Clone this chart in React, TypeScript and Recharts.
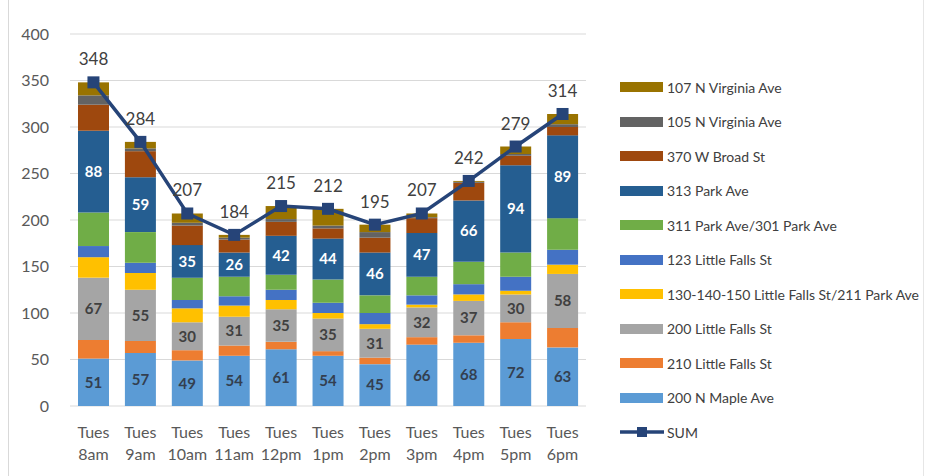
import React from 'react';
import { ComposedChart, Bar, Line, XAxis, YAxis, CartesianGrid, LabelList } from 'recharts';

const days = ['Tues', 'Tues', 'Tues', 'Tues', 'Tues', 'Tues', 'Tues', 'Tues', 'Tues', 'Tues', 'Tues'];
const times = ['8am', '9am', '10am', '11am', '12pm', '1pm', '2pm', '3pm', '4pm', '5pm', '6pm'];

const maple200N = [51, 57, 49, 54, 61, 54, 45, 66, 68, 72, 63];
const falls210 = [20, 13, 11, 11, 8, 5, 7, 8, 8, 18, 21];
const falls200 = [67, 55, 30, 31, 35, 35, 31, 32, 37, 30, 58];
const falls130 = [22, 18, 15, 12, 10, 6, 5, 3, 7, 4, 10];
const falls123 = [12, 11, 9, 10, 11, 11, 12, 10, 11, 15, 16];
const park311 = [36, 33, 24, 21, 16, 25, 19, 20, 24, 26, 34];
const park313 = [88, 59, 35, 26, 42, 44, 46, 47, 66, 94, 89];
const broad370 = [28, 28, 21, 14, 15, 11, 16, 16, 19, 10, 9];
const virginia105 = [10, 3, 3, 2, 3, 3, 6, 1, 1, 2, 3];
const virginia107 = [14, 7, 10, 3, 14, 18, 8, 4, 1, 8, 11];
const sumValues = [348, 284, 207, 184, 215, 212, 195, 207, 242, 279, 314];

const yTicks = [0, 50, 100, 150, 200, 250, 300, 350, 400];

const series = [
  { key: 'm200', name: '200 N Maple Ave', color: '#5B9BD5', values: maple200N, label: '#333F50' },
  { key: 'f210', name: '210 Little Falls St', color: '#ED7D31', values: falls210 },
  { key: 'f200', name: '200 Little Falls St', color: '#A5A5A5', values: falls200, label: '#404040' },
  { key: 'f130', name: '130-140-150 Little Falls St/211 Park Ave', color: '#FFC000', values: falls130 },
  { key: 'f123', name: '123 Little Falls St', color: '#4472C4', values: falls123 },
  { key: 'p311', name: '311 Park Ave/301 Park Ave', color: '#70AD47', values: park311 },
  { key: 'p313', name: '313 Park Ave', color: '#255E91', values: park313, label: '#FFFFFF' },
  { key: 'b370', name: '370 W Broad St', color: '#9E480E', values: broad370 },
  { key: 'v105', name: '105 N Virginia Ave', color: '#636363', values: virginia105 },
  { key: 'v107', name: '107 N Virginia Ave', color: '#997300', values: virginia107 },
];

const sumColor = '#264478';

const data = times.map((t, i) => {
  const row: Record<string, any> = { cat: days[i] + ' ' + t, day: days[i], time: t, sum: sumValues[i] };
  series.forEach((s) => {
    row[s.key] = s.values[i];
  });
  return row;
});

const FONT = 'Lato, "Open Sans", sans-serif';

const XTick = (props: any) => {
  const { x, y, index } = props;
  return (
    <g>
      <text x={x} y={y + 24} textAnchor="middle" fill="#595959" fontSize={16} fontFamily={FONT}>
        {days[index]}
      </text>
      <text x={x} y={y + 46} textAnchor="middle" fill="#595959" fontSize={16} fontFamily={FONT}>
        {times[index]}
      </text>
    </g>
  );
};

const SquareDot = (props: any) => {
  const { cx, cy } = props;
  if (cx == null || cy == null) return null;
  return <rect x={cx - 6} y={cy - 6} width={12} height={12} fill={sumColor} />;
};

export default function App() {
  const legendItems = [...series].reverse();
  return (
    <div style={{ position: 'absolute', left: 0, top: 0, width: 928, height: 476, background: '#fff' }}>
      <div style={{ position: 'absolute', left: 8, top: 0, width: 914, height: 476, borderLeft: '1px solid #d9d9d9', borderRight: '1px solid #e6e6e6' }} />
      <div style={{ position: 'absolute', left: 0, top: 0 }}>
        <ComposedChart
          width={928}
          height={476}
          data={data}
          margin={{ top: 34, right: 342, bottom: 0, left: 0 }}
          barSize={31}
        >
          <CartesianGrid vertical={false} stroke="#d9d9d9" />
          <XAxis
            dataKey="cat"
            height={70}
            axisLine={false}
            tickLine={false}
            interval={0}
            tick={<XTick />}
          />
          <YAxis
            width={70}
            domain={[0, 400]}
            ticks={yTicks}
            axisLine={false}
            tickLine={false}
            tick={{ fill: '#595959', fontSize: 16, fontFamily: FONT }}
            tickMargin={15}
          />
          {series.map((s) => (
            <Bar key={s.key} dataKey={s.key} name={s.name} stackId="a" fill={s.color} isAnimationActive={false}>
              {s.label ? (
                <LabelList
                  dataKey={s.key}
                  position="center"
                  fill={s.label}
                  fontSize={15}
                  fontWeight="bold"
                  fontFamily={FONT}
                />
              ) : null}
            </Bar>
          ))}
          <Line
            dataKey="sum"
            name="SUM"
            stroke={sumColor}
            strokeWidth={3.5}
            dot={<SquareDot />}
            activeDot={false}
            isAnimationActive={false}
          >
            <LabelList dataKey="sum" position="top" offset={17} fill="#404040" fontSize={17} fontFamily={FONT} />
          </Line>
        </ComposedChart>
      </div>
      <div style={{ position: 'absolute', left: 620, top: 78, fontFamily: FONT, fontSize: 14, color: '#404040' }}>
        {legendItems.map((s, i) => (
          <div key={s.key} style={{ position: 'absolute', left: 0, top: i * 34.5, height: 18, display: 'flex', alignItems: 'center', whiteSpace: 'nowrap' }}>
            <div style={{ width: 43, height: 10, background: s.color, marginRight: 4 }} />
            <span>{s.name}</span>
          </div>
        ))}
        <div style={{ position: 'absolute', left: 0, top: 10 * 34.5, height: 18, display: 'flex', alignItems: 'center', whiteSpace: 'nowrap' }}>
          <svg width={44} height={12} style={{ marginRight: 3 }}>
            <line x1={0} y1={6} x2={44} y2={6} stroke={sumColor} strokeWidth={3.5} />
            <rect x={17} y={1} width={10} height={10} fill={sumColor} />
          </svg>
          <span>SUM</span>
        </div>
      </div>
    </div>
  );
}
